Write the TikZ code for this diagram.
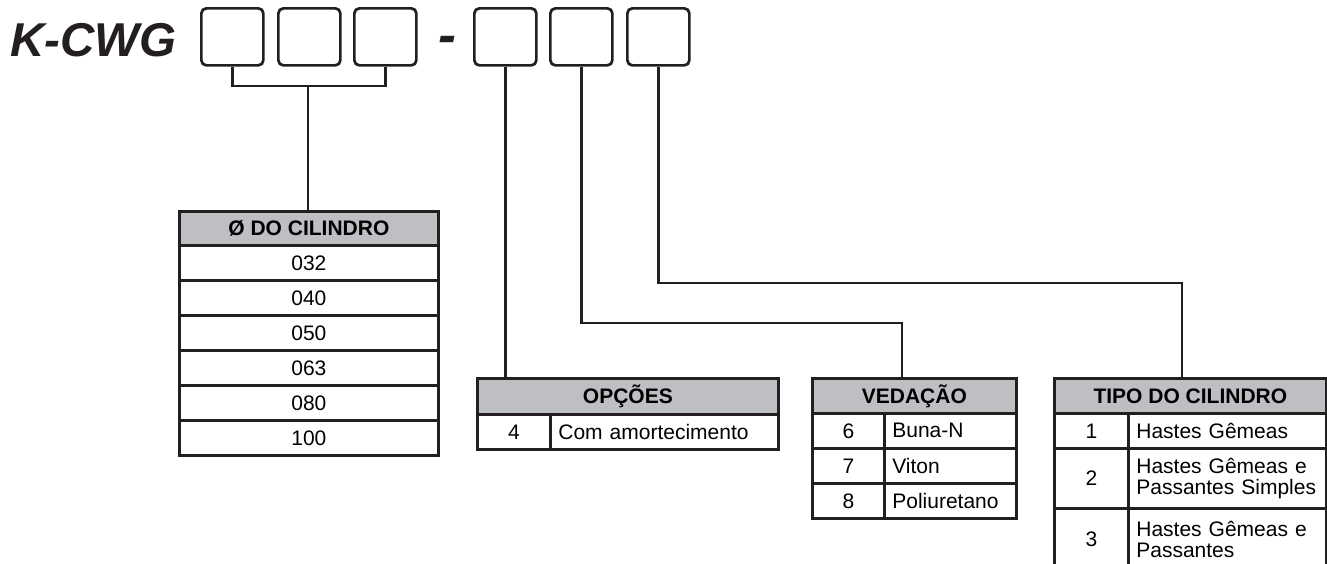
\documentclass[tikz,border=0pt]{standalone}
\usepackage{fontspec}
\setmainfont{Liberation Sans}
\definecolor{ink}{RGB}{35,31,32}
\definecolor{hdrgray}{RGB}{190,191,195}
\begin{document}
\begin{tikzpicture}[x=1pt,y=-1pt,line width=2.7pt,
  codebox/.style={draw=ink,rounded corners=5pt,minimum width=62pt,minimum height=57pt,inner sep=0pt,anchor=north west},
  hcell/.style={draw=ink,fill=hdrgray,inner sep=0pt,anchor=north west,font=\fontsize{21}{22}\selectfont\bfseries},
  cell/.style={draw=ink,fill=white,inner sep=0pt,anchor=north west,font=\fontsize{21}{21.5}\selectfont},
  lcell/.style={cell,align=left,inner xsep=8pt},
  conn/.style={draw=ink,line width=2.7pt}]
\useasboundingbox (0,0) rectangle (1327,563);
\clip (0,0) rectangle (1327,563);
% title
\node[anchor=base west,inner sep=0pt,font=\fontsize{47.5}{47.5}\selectfont\bfseries\itshape,text=ink] (title) at (9,56) {K-CWG};
\node[anchor=base west,inner sep=0pt,font=\fontsize{54}{54}\selectfont\bfseries\itshape,text=ink] (dash) at (437,53) {-};
% code boxes
\node[codebox] (b1) at (200,7) {};
\node[codebox] (b2) at (277,7) {};
\node[codebox] (b3) at (353,7) {};
\node[codebox] (b4) at (473,7) {};
\node[codebox] (b5) at (549,7) {};
\node[codebox] (b6) at (626,7) {};
% table 1: diameter
\node[hcell,minimum width=259pt,minimum height=34pt] (t1) at (178,210) {Ø DO CILINDRO};
\node[cell,minimum width=259pt,minimum height=35pt] (t1r1) at (178,244) {032};
\node[cell,minimum width=259pt,minimum height=35pt] (t1r2) at (178,279) {040};
\node[cell,minimum width=259pt,minimum height=35pt] (t1r3) at (178,314) {050};
\node[cell,minimum width=259pt,minimum height=35pt] (t1r4) at (178,349) {063};
\node[cell,minimum width=259pt,minimum height=35pt] (t1r5) at (178,384) {080};
\node[cell,minimum width=259pt,minimum height=35pt] (t1r6) at (178,419) {100};
% table 2: options
\node[hcell,minimum width=301pt,minimum height=36pt] (t2) at (476,377) {OPÇÕES};
\node[cell,minimum width=73pt,minimum height=35pt] (t2a1) at (476,413) {4};
\node[lcell,text width=212pt,minimum height=35pt] (t2b1) at (549,413) {Com amortecimento};
% table 3: seals
\node[hcell,minimum width=204pt,minimum height=35pt] (t3) at (811,377) {VEDAÇÃO};
\node[cell,minimum width=72pt,minimum height=35pt] (t3a1) at (811,412) {6};
\node[lcell,text width=116pt,minimum height=35pt] (t3b1) at (883,412) {Buna-N};
\node[cell,minimum width=72pt,minimum height=35pt] (t3a2) at (811,447) {7};
\node[lcell,text width=116pt,minimum height=35pt] (t3b2) at (883,447) {Viton};
\node[cell,minimum width=72pt,minimum height=35pt] (t3a3) at (811,482) {8};
\node[lcell,text width=116pt,minimum height=35pt] (t3b3) at (883,482) {Poliuretano};
% table 4: type
\node[hcell,minimum width=272pt,minimum height=35pt] (t4) at (1053,377) {TIPO DO CILINDRO};
\node[cell,minimum width=74pt,minimum height=35pt] (t4a1) at (1053,412) {1};
\node[lcell,text width=182pt,minimum height=35pt] (t4b1) at (1127,412) {Hastes Gêmeas};
\node[cell,minimum width=74pt,minimum height=60pt] (t4a2) at (1053,447) {2};
\node[lcell,text width=182pt,minimum height=60pt] (t4b2) at (1127,447) {Hastes Gêmeas e\\Passantes Simples};
\node[cell,minimum width=74pt,minimum height=62pt] (t4a3) at (1053,507) {3};
\node[lcell,text width=182pt,minimum height=62pt] (t4b3) at (1127,507) {Hastes Gêmeas e\\Passantes};
% connectors
\coordinate (m1) at (308,86);
\draw[conn] (b1.south) |- (m1) -| (b3.south);
\draw[conn] (m1) -- (m1 |- t1.north);
\draw[conn] (b4.south) -- (b4.south |- t2.north);
\coordinate (k5) at (902,323);
\draw[conn] (b5.south) |- (k5) -- (k5 |- t3.north);
\coordinate (k6) at (1182,283);
\draw[conn] (b6.south) |- (k6) -- (k6 |- t4.north);
\end{tikzpicture}
\end{document}
